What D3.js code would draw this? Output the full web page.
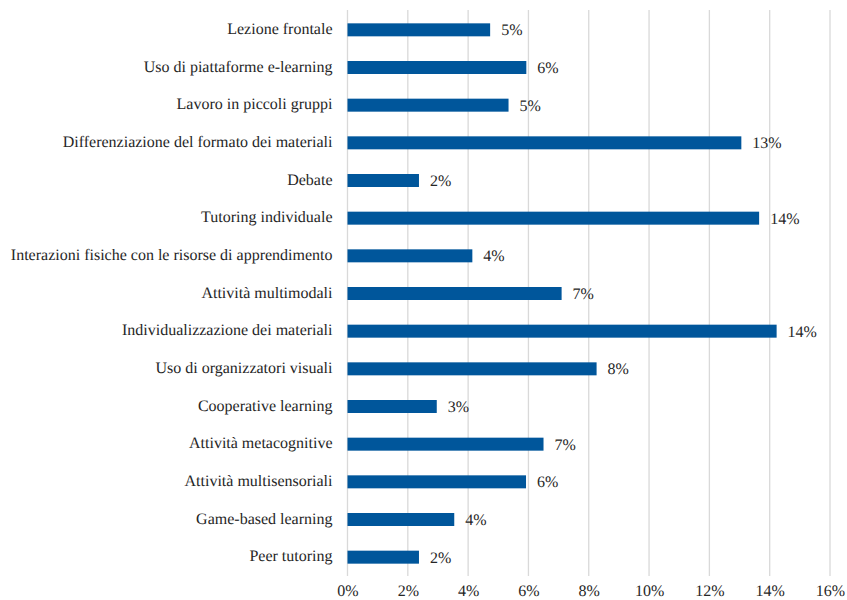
<!DOCTYPE html>
<html>
<head>
<meta charset="utf-8">
<script src="https://cdn.jsdelivr.net/npm/d3@7"></script>
<style>
  html, body { margin: 0; padding: 0; background: #ffffff; }
  svg { display: block; }
  svg text { text-rendering: geometricPrecision; }
</style>
</head>
<body>
<svg id="chart" width="847" height="600"></svg>
<script>
// Strategie didattiche e quota di utilizzo
const categories = [
  "Lezione frontale",
  "Uso di piattaforme e-learning",
  "Lavoro in piccoli gruppi",
  "Differenziazione del formato dei materiali",
  "Debate",
  "Tutoring individuale",
  "Interazioni fisiche con le risorse di apprendimento",
  "Attività multimodali",
  "Individualizzazione dei materiali",
  "Uso di organizzatori visuali",
  "Cooperative learning",
  "Attività metacognitive ",
  "Attività multisensoriali",
  "Game-based learning",
  "Peer tutoring"
];
const values = [
  0.0473, 0.0593, 0.0534, 0.1306, 0.0237,
  0.1365, 0.0414, 0.0710, 0.1423, 0.0826,
  0.0296, 0.0650, 0.0592, 0.0354, 0.0237
];
const xTicks = [0, 0.02, 0.04, 0.06, 0.08, 0.10, 0.12, 0.14, 0.16];

const FONT = "'Liberation Serif'";
const INK = "#262626";
const FS = "16px";

const svg = d3.select("#chart");
const left = 347.5;

const x = d3.scaleLinear()
  .domain([0, 0.16])
  .range([left, 830]);

const y = d3.scaleBand()
  .domain(categories)
  .range([11, 576])
  .paddingInner(0.655)
  .paddingOuter(0.3275);

const pct = d3.format(".0%");

// vertical gridlines
svg.append("g")
  .selectAll("line")
  .data(xTicks)
  .join("line")
  .attr("x1", d => x(d)).attr("x2", d => x(d))
  .attr("y1", 10).attr("y2", 576)
  .attr("stroke", "#d9d9d9")
  .attr("stroke-width", 1.3);

// x axis tick labels
const xAxis = d3.axisBottom(x).tickValues(xTicks).tickFormat(pct).tickSize(0).tickPadding(0);
const gx = svg.append("g")
  .attr("transform", "translate(0,596)")
  .attr("font-family", FONT)
  .call(xAxis);
gx.select(".domain").remove();
gx.selectAll("text")
  .attr("y", 0)
  .attr("dy", 0)
  .style("font-size", FS)
  .style("font-family", FONT)
  .attr("fill", INK);

// category labels
const yAxis = d3.axisLeft(y).tickSize(0).tickPadding(15);
const gy = svg.append("g")
  .attr("transform", `translate(${left},0)`)
  .call(yAxis);
gy.select(".domain").remove();
gy.selectAll("text")
  .attr("dy", "0.25em")
  .style("font-size", FS)
  .style("font-family", FONT)
  .attr("fill", INK);

// bars
const rows = categories.map((c, i) => ({ c, v: values[i] }));
svg.append("g")
  .selectAll("rect")
  .data(rows)
  .join("rect")
  .attr("x", x(0))
  .attr("y", d => y(d.c))
  .attr("width", d => x(d.v) - x(0))
  .attr("height", y.bandwidth())
  .attr("fill", "#00569b");

// value labels
svg.append("g")
  .selectAll("text")
  .data(rows)
  .join("text")
  .attr("x", d => x(d.v) + 11)
  .attr("y", d => y(d.c) + y.bandwidth() / 2)
  .attr("dy", "0.35em")
  .style("font-size", FS)
  .style("font-family", FONT)
  .attr("fill", INK)
  .text(d => pct(d.v));
</script>
</body>
</html>
